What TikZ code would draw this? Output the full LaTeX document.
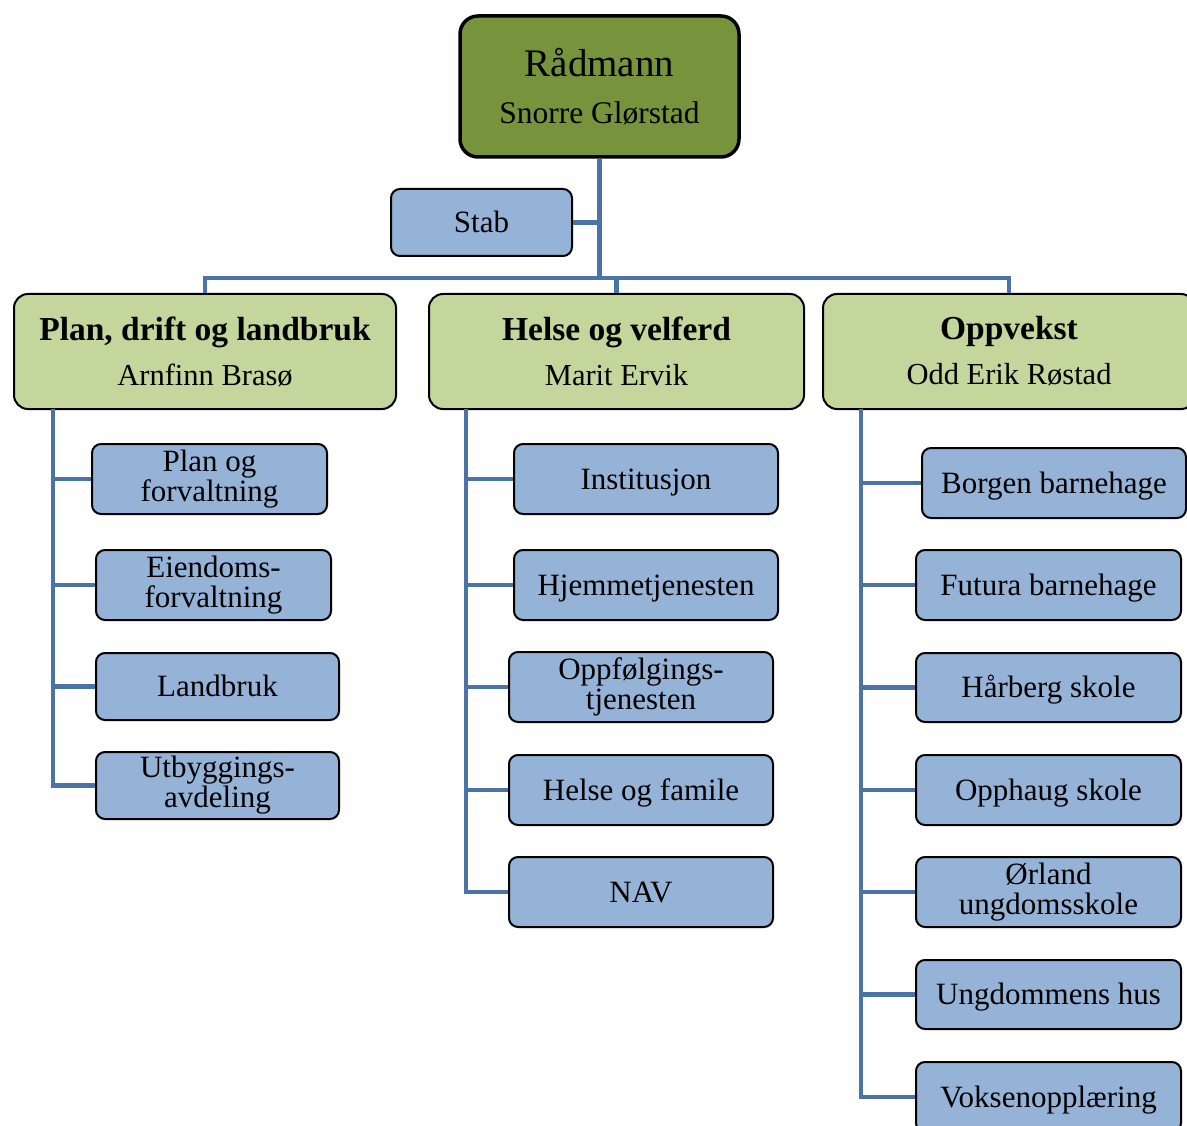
\documentclass[tikz,border=0pt]{standalone}
\usepackage{fontspec}
\setmainfont{Liberation Serif}
\definecolor{topg}{HTML}{77933C}
\definecolor{midg}{HTML}{C3D69B}
\definecolor{boxb}{HTML}{95B3D7}
\definecolor{linec}{HTML}{4A73A8}
\tikzset{
  topbox/.style={draw=black, line width=3.5pt, fill=topg, rounded corners=18pt, align=center, inner sep=0pt, font=\fontsize{30}{47}\selectfont},
  headbox/.style={draw=black, line width=2pt, fill=midg, rounded corners=14pt, align=center, inner sep=0pt, minimum height=115pt, font=\fontsize{30}{45}\selectfont},
  childbox/.style={draw=black, line width=2pt, fill=boxb, rounded corners=9pt, align=center, inner sep=0pt, font=\fontsize{31}{30}\selectfont,
    execute at begin node={\rule{0pt}{27pt}}, execute at end node={\rule[-7pt]{0pt}{7pt}}},
  conn/.style={draw=linec, line width=4.8pt},
  hbar/.style={draw=linec, line width=4pt}
}
\begin{document}
\begin{tikzpicture}[x=1pt,y=-1pt]
\useasboundingbox (0,0) rectangle (1187,1126);
\clip (0,0) rectangle (1187,1126);
% top
\node[topbox, minimum width=279pt, minimum height=141pt] (rad) at (599.5,86.5) {\fontsize{39}{47}\selectfont Rådmann\\\fontsize{31.5}{47}\selectfont Snorre Glørstad};
\node[childbox, minimum width=181pt, minimum height=67pt] (stab) at (481.5,222.5) {Stab};
% heads
\node[headbox, minimum width=382pt] (plan) at (205,351.5) {\fontsize{33.5}{45}\selectfont\bfseries Plan, drift og landbruk\\\mdseries\fontsize{30.5}{45}\selectfont Arnfinn Brasø};
\node[headbox, minimum width=375pt] (helse) at (616.5,351.5) {\fontsize{33.5}{45}\selectfont\bfseries Helse og velferd\\\mdseries\fontsize{30.5}{45}\selectfont Marit Ervik};
\node[headbox, minimum width=372pt] (opp) at (1009,351.5) {\fontsize{33.5}{45}\selectfont\bfseries Oppvekst\\\mdseries\fontsize{30.5}{45}\selectfont Odd Erik Røstad};
% left children
\node[childbox, minimum width=235pt, minimum height=70pt] (pf) at (209.5,479) {Plan og\\forvaltning};
\node[childbox, minimum width=235pt, minimum height=70pt] (ef) at (213.5,585) {Eiendoms-\\forvaltning};
\node[childbox, minimum width=243pt, minimum height=67pt] (lb) at (217.5,686.5) {Landbruk};
\node[childbox, minimum width=243pt, minimum height=67pt] (ua) at (217.5,785.5) {Utbyggings-\\avdeling};
% middle children
\node[childbox, minimum width=264pt, minimum height=70pt] (inst) at (646,479) {Institusjon};
\node[childbox, minimum width=264pt, minimum height=70pt] (hjem) at (646,585) {Hjemmetjenesten};
\node[childbox, minimum width=264pt, minimum height=70pt] (oppf) at (641,687) {Oppfølgings-\\tjenesten};
\node[childbox, minimum width=264pt, minimum height=70pt] (hf) at (641,790) {Helse og famile};
\node[childbox, minimum width=264pt, minimum height=70pt] (nav) at (641,892) {NAV};
% right children
\node[childbox, minimum width=264pt, minimum height=70pt] (borg) at (1054,483) {Borgen barnehage};
\node[childbox, minimum width=265pt, minimum height=70pt] (fut) at (1048.5,585) {Futura barnehage};
\node[childbox, minimum width=265pt, minimum height=69pt] (harb) at (1048.5,687.5) {Hårberg skole};
\node[childbox, minimum width=265pt, minimum height=70pt] (ophs) at (1048.5,790) {Opphaug skole};
\node[childbox, minimum width=265pt, minimum height=70pt] (orl) at (1048.5,892) {Ørland\\ungdomsskole};
\node[childbox, minimum width=265pt, minimum height=69pt] (ungh) at (1048.5,994.5) {Ungdommens hus};
\node[childbox, minimum width=265pt, minimum height=70pt] (voks) at (1048.5,1097) {Voksenopplæring};
% connectors
\coordinate (bar) at (0,278);
\coordinate (lt) at (53,409);
\coordinate (mt) at (466,409);
\coordinate (rt) at (861,409);
\draw[conn] (rad.south) -- (rad.south |- bar);
\draw[conn] (stab.east) -- (stab.east -| rad.south);
\draw[hbar] (plan.north) -- (plan.north |- bar) -- (opp.north |- bar) -- (opp.north);
\draw[conn] (helse.north) -- (helse.north |- bar);
\foreach \c in {pf,ef,lb,ua} \draw[conn] (lt) |- (\c.west);
\foreach \c in {inst,hjem,oppf,hf,nav} \draw[conn] (mt) |- (\c.west);
\foreach \c in {borg,fut,harb,ophs,orl,ungh,voks} \draw[conn] (rt) |- (\c.west);
\end{tikzpicture}
\end{document}
